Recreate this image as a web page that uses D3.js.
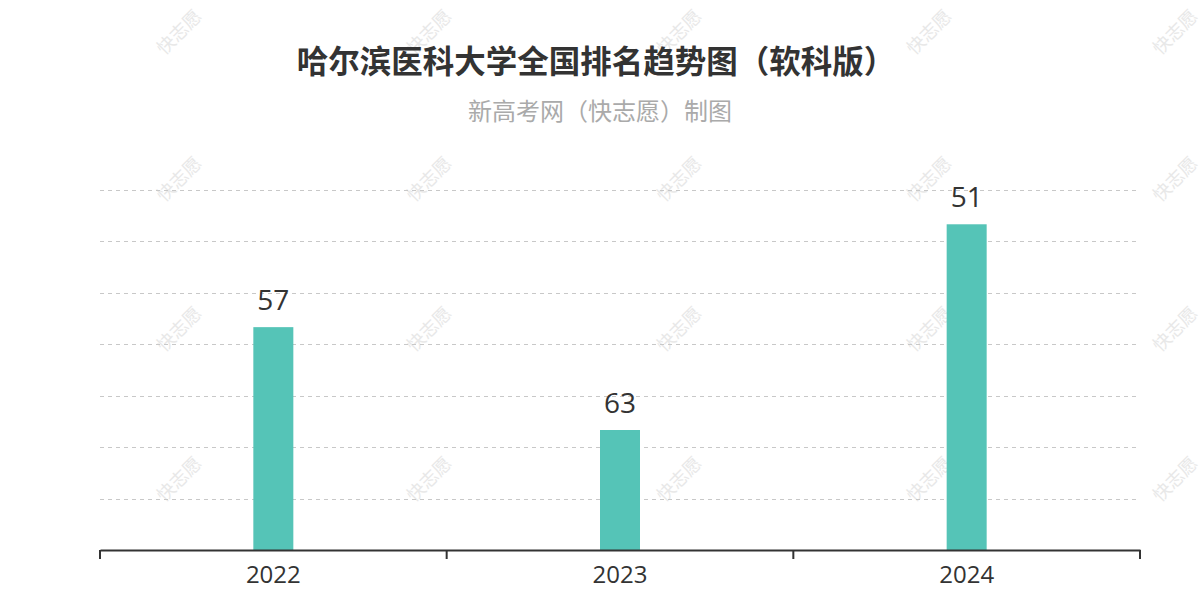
<!DOCTYPE html>
<html><head><meta charset="utf-8">
<script src="https://cdn.jsdelivr.net/npm/d3@7"></script>
<style>html,body{margin:0;padding:0;background:#fff;}svg{display:block;font-family:"Noto Sans CJK SC","Noto Sans",sans-serif;}</style>
</head><body><svg id="c" width="1200" height="600"></svg>
<script>
const categories = ["2022","2023","2024"];
const ranks = [57, 63, 51];
const yTicks = [70, 67, 64, 61, 58, 55, 52, 49];
const title = "哈尔滨医科大学全国排名趋势图（软科版）";
const subtitle = "新高考网（快志愿）制图";
const watermark = "快志愿";

const svg = d3.select("#c");
const mLeft = 100, mRight = 1140, mTop = 190, mBottom = 550;

// watermarks
const wmX = [178, 428, 678, 928, 1174];
const wmY = [31, 178, 328, 478];
const wg = svg.append("g");
wmY.forEach(yy => wmX.forEach(xx => {
  wg.append("text").attr("transform", `translate(${xx},${yy}) rotate(-45)`)
    .attr("text-anchor","middle").attr("dominant-baseline","central")
    .attr("font-size", 18).attr("fill", "#e8e8e8").text(watermark);
}));

const x = d3.scaleBand().domain(categories).range([mLeft, mRight]);
const y = d3.scaleLinear().domain([70, 49]).range([mBottom, mTop]);

// grid
svg.append("g").selectAll("line").data(yTicks.slice(1)).join("line")
  .attr("x1", mLeft).attr("x2", mRight)
  .attr("y1", d => Math.round(y(d)) + 0.5).attr("y2", d => Math.round(y(d)) + 0.5)
  .attr("stroke", "#c8c8c8").attr("stroke-width", 1).attr("stroke-dasharray", "4,4");

// bars
const bw = 40;
svg.append("g").selectAll("rect").data(categories).join("rect")
  .attr("x", d => x(d) + x.bandwidth()/2 - bw/2)
  .attr("width", bw)
  .attr("y", (d,i) => y(ranks[i]))
  .attr("height", (d,i) => mBottom - y(ranks[i]))
  .attr("fill", "#55c4b7");

// labels
svg.append("g").selectAll("text").data(categories).join("text")
  .attr("x", d => x(d) + x.bandwidth()/2)
  .attr("y", (d,i) => y(ranks[i]) - 17)
  .attr("text-anchor","middle").attr("font-size", 28).attr("fill", "#333")
  .attr("font-family", "'Open Sans','Noto Sans',sans-serif")
  .text((d,i) => ranks[i]);

// x axis
const ax = svg.append("g").attr("transform", `translate(0,${mBottom})`)
  .call(d3.axisBottom(x).tickSize(0).tickPadding(16));
ax.select(".domain").attr("stroke", "#333").attr("stroke-width", 2);
ax.selectAll(".tick text").attr("font-size", 24).attr("fill", "#333")
  .attr("font-family", "'Open Sans','Noto Sans',sans-serif");
const bounds = categories.map(c => x(c)).concat([mRight]);
ax.selectAll(".bt").data(bounds).join("line").attr("class","bt")
  .attr("x1", d => d).attr("x2", d => d).attr("y1", 0).attr("y2", 9)
  .attr("stroke", "#333").attr("stroke-width", 2);

// titles
svg.append("text").attr("x", 596).attr("y", 73).attr("text-anchor","middle")
  .attr("font-size", 31.5).attr("font-weight","bold").attr("fill","#333").text(title);
svg.append("text").attr("x", 600).attr("y", 120).attr("text-anchor","middle")
  .attr("font-size", 24).attr("fill","#aaa").text(subtitle);
</script></body></html>
